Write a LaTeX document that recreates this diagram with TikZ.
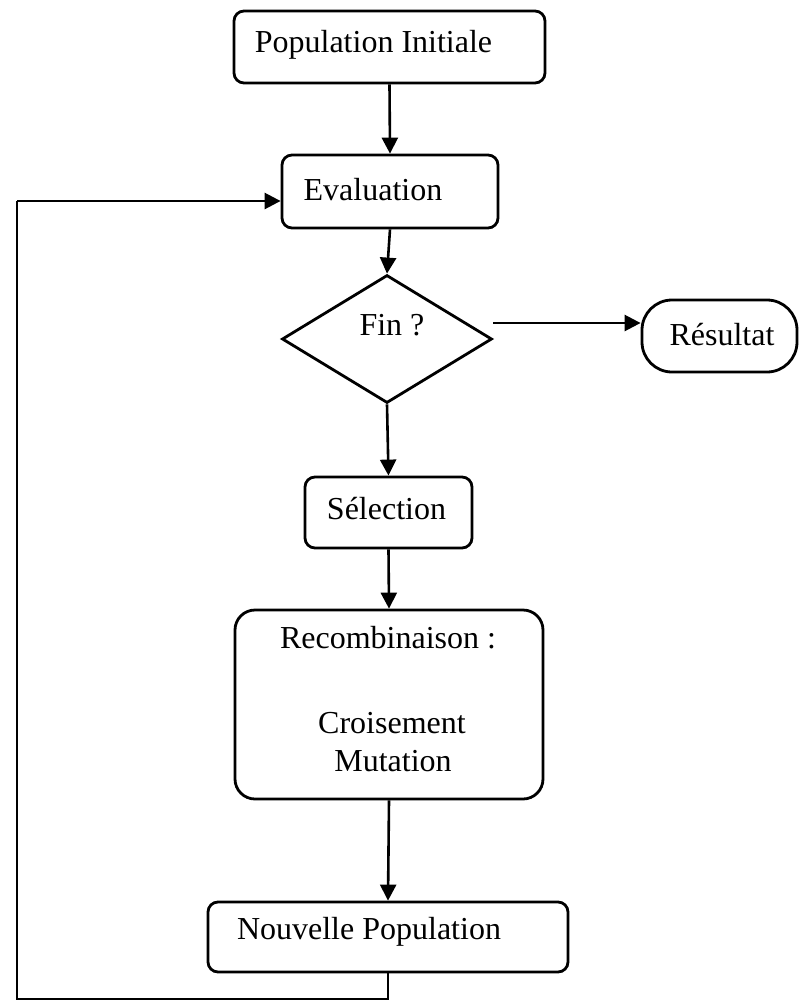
\documentclass[tikz,border=0pt]{standalone}
\usepackage{fontspec}
\setmainfont{Liberation Serif}
\usetikzlibrary{arrows.meta,shapes.geometric}
\begin{document}
\begin{tikzpicture}[x=1pt,y=-1pt,
  box/.style={draw,line width=2.8pt,rounded corners=10pt,inner sep=0pt},
  lbl/.style={inner sep=0pt,font=\fontsize{32}{40}\selectfont},
  arr/.style={line width=2.6pt,-{Triangle[length=16pt,width=16pt]}},
  ln/.style={line width=2.6pt}]
\useasboundingbox (0,0) rectangle (801,1002);
\fill[white] (0,0) rectangle (801,1002);
% nodes
\node[box,minimum width=311pt,minimum height=72pt] (pop) at (389.5,47) {};
\node[lbl] (popt) at (373.5,45) {Population Initiale};
\node[box,minimum width=216pt,minimum height=73pt] (eval) at (390,191.5) {};
\node[lbl] (evalt) at (373,190) {Evaluation};
\node[draw,diamond,line width=2.8pt,inner sep=0pt,minimum width=210pt,minimum height=128pt] (fin) at (387,339) {};
\node[lbl] (fint) at (392,325) {Fin ?};
\node[box,rounded corners=30pt,minimum width=155pt,minimum height=72pt] (res) at (719.5,336) {};
\node[lbl] (rest) at (722,335) {Résultat};
\node[box,minimum width=167pt,minimum height=71pt] (sel) at (388.5,512.5) {};
\node[lbl] (selt) at (386.5,509) {Sélection};
\node[box,rounded corners=20pt,minimum width=308pt,minimum height=189pt] (rec) at (389,704.5) {};
\node[lbl] (rect1) at (388,638) {Recombinaison :};
\node[lbl] (rect2) at (392,723) {Croisement};
\node[lbl] (rect3) at (393,761) {Mutation};
\node[box,minimum width=360pt,minimum height=70pt] (nouv) at (388,937) {};
\node[lbl] (nouvt) at (369,932) {Nouvelle Population};
% connectors
\draw[arr] (pop.south) -- (eval.north);
\draw[arr] (eval.south) -- (fin.north);
\draw[arr] ([yshift=16pt]fin.east) -- ([yshift=16pt]fin.east -| res.west);
\draw[arr] (fin.south) -- (sel.north);
\draw[arr] (sel.south) -- (rec.north);
\draw[arr] (rec.south) -- (nouv.north);
\coordinate (c1) at (388,999);
\coordinate (c2) at (17,999);
\coordinate (c3) at (17,201);
\draw[ln] (nouv.south) -- (c1) -- (c2) -- (c3);
\draw[arr] (c3) -- (c3 -| eval.west);
\end{tikzpicture}
\end{document}
